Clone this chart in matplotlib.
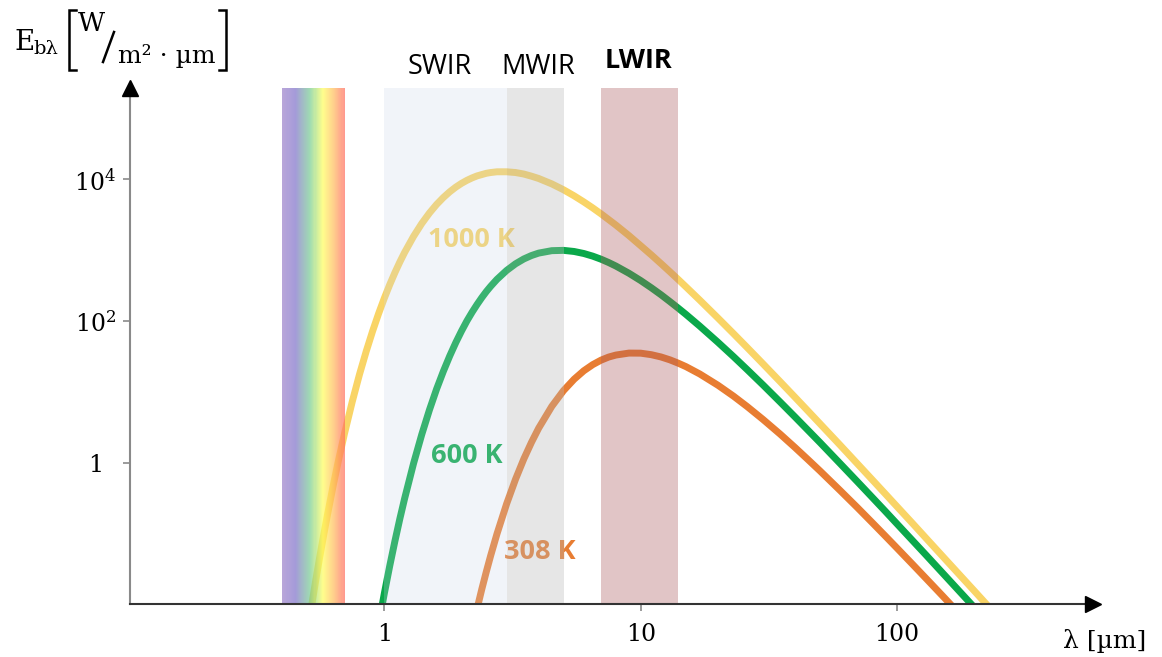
import numpy as np
import matplotlib.pyplot as plt
from matplotlib.colors import LinearSegmentedColormap
from matplotlib.lines import Line2D

# spectral emissive power: wavelength [um], E [W/m2.um]
wl_1000 = [0.5, 0.52, 0.54, 0.56, 0.58, 0.6, 0.63, 0.66, 0.7, 0.75, 0.8, 0.85, 0.9, 0.95, 1.0,
           1.05, 1.1, 1.15, 1.2, 1.3, 1.4, 1.5, 1.6, 1.7, 1.8, 1.9, 2.0, 2.1, 2.2, 2.3, 2.4, 2.5,
           2.6, 2.75, 3.0, 3.25, 3.5, 3.75, 4.0, 4.5, 5.0, 5.5, 6.0, 6.5, 7.0, 7.5, 8, 9, 10, 11,
           12, 13, 14, 15, 17, 20, 23, 26, 30, 35, 40, 45, 50, 60, 70, 80, 90, 100, 115, 130, 150,
           175, 200, 230, 260]
e_1000 = [0.00381, 0.00947, 0.0219, 0.0472, 0.096, 0.185, 0.455, 1.02, 2.64, 7.35, 17.7, 37.6,
          72.3, 128, 211, 328, 485, 686, 933, 1570, 2390, 3360, 4440, 5560, 6690, 7780, 8790,
          9700, 10500, 11200, 11700, 12200, 12500, 12800, 12800, 12500, 11900, 11100, 10300, 8640,
          7140, 5860, 4810, 3960, 3270, 2710, 2270, 1610, 1160, 861, 649, 498, 388, 306, 198, 111,
          66.9, 42.6, 25, 14, 8.44, 5.38, 3.59, 1.78, 0.976, 0.58, 0.366, 0.242, 0.14, 0.0861,
          0.0489, 0.0266, 0.0157, 0.00901, 0.00554]

wl_600 = [0.95, 1.0, 1.05, 1.1, 1.15, 1.2, 1.3, 1.4, 1.5, 1.6, 1.7, 1.8, 1.9, 2.0, 2.1, 2.2, 2.3,
          2.4, 2.5, 2.6, 2.75, 3.0, 3.25, 3.5, 3.75, 4.0, 4.5, 5.0, 5.5, 6.0, 6.5, 7.0, 7.5, 8, 9,
          10, 11, 12, 13, 14, 15, 17, 20, 23, 26, 30, 35, 40, 45, 50, 60, 70, 80, 90, 100, 115,
          130, 150, 175, 200, 230, 260]
e_600 = [0.00527, 0.0144, 0.0354, 0.0792, 0.164, 0.315, 0.982, 2.53, 5.62, 11.1, 19.7, 32.4,
         49.9, 72.6, 101, 134, 172, 215, 262, 311, 389, 520, 645, 755, 844, 913, 988, 998, 962,
         901, 827, 749, 672, 600, 474, 374, 296, 236, 189, 153, 125, 85.1, 50.5, 31.7, 20.8,
         12.6, 7.24, 4.45, 2.88, 1.95, 0.979, 0.545, 0.327, 0.208, 0.138, 0.0802, 0.0498,
         0.0284, 0.0155, 0.00918, 0.00529, 0.00326]

wl_308 = [2.1, 2.2, 2.3, 2.4, 2.5, 2.6, 2.75, 3, 3.25, 3.5, 3.75, 4, 4.5, 5, 5.5, 6, 6.5, 7, 7.5,
          8, 9, 10, 11, 12, 13, 14, 15, 17, 20, 23, 26, 30, 35, 40, 45, 50, 60, 70, 80, 90, 100,
          115, 130, 150, 175, 200, 230]
e_308 = [0.002, 0.00436, 0.00878, 0.0166, 0.0294, 0.0496, 0.0998, 0.266, 0.591, 1.14, 1.96, 3.1,
         6.29, 10.5, 15.2, 20, 24.4, 28.2, 31.2, 33.3, 35.5, 35.4, 33.7, 31.3, 28.5, 25.6, 22.9,
         18, 12.5, 8.78, 6.26, 4.11, 2.55, 1.65, 1.11, 0.775, 0.408, 0.235, 0.144, 0.0931, 0.0628,
         0.0371, 0.0233, 0.0135, 0.00745, 0.00444, 0.00258]

temp_labels = ['1000 K', '600 K', '308 K']
band_names = ['SWIR', 'MWIR', 'LWIR']
band_edges = [(1, 3), (3, 5), (7, 14)]
visible = (0.4, 0.7)
xticks = [1, 10, 100]
xtick_labels = ['1', '10', '100']
yticks = [1, 1e2, 1e4]
ytick_labels = ['1', '$10^2$', '$10^4$']

W, H = 1162, 657
plt.rcParams['mathtext.fontset'] = 'dejavuserif'


def px(x, y):
    # pixel position from the top left -> figure fraction
    return x / W, 1 - y / H


fig = plt.figure(figsize=(W / 100, H / 100), dpi=100)
ax = fig.add_axes([130 / W, 53 / H, (1093 - 130) / W, 516 / H])
ax.set_xscale('log')
ax.set_yscale('log')
ax.set_xlim(0.1019, 580.7)
ax.set_ylim(0.01026, 1.946e5)

curve_colors = ['#F9D466', '#0AA84A', '#E87D32']
for wl, e, c in zip([wl_1000, wl_600, wl_308], [e_1000, e_600, e_308], curve_colors):
    ax.plot(wl, e, color=c, lw=5, solid_capstyle='butt', solid_joinstyle='round', zorder=2)

# temperature labels sit under the bands, like the curves
label_pos = [(2.18, 1400), (2.10, 1.26), (4.05, 0.0556)]
for t, (x, y), c in zip(temp_labels, label_pos, curve_colors):
    ax.text(x, y, t, color=c, fontsize=19.5, fontweight='bold', family='Open Sans',
            ha='center', va='center', zorder=1.5)

# visible spectrum strip
rainbow = LinearSegmentedColormap.from_list('vis', [
    (0.0, '#9B80CA'), (0.2, '#7E70C9'), (0.45, '#76CD91'),
    (0.65, '#FFFF5B'), (0.85, '#FFB55B'), (1.0, '#FF6F5E')])
edges = np.geomspace(visible[0], visible[1], 61)
for i in range(60):
    ax.axvspan(edges[i], edges[i + 1], color=rainbow(i / 59), alpha=0.7, lw=0, zorder=3)

band_colors = [('#C8D5E8', 0.25), ('#B8B8B8', 0.35), ('#AB595C', 0.35)]
for (a, b), (c, al) in zip(band_edges, band_colors):
    ax.axvspan(a, b, color=c, alpha=al, lw=0, zorder=3)

band_label_pos = [(1.65, 1.041), (3.97, 1.041), (9.84, 1.052)]
for name, (x, y) in zip(band_names, band_label_pos):
    ax.text(x, y, name, transform=ax.get_xaxis_transform(), fontsize=19.5,
            family='Open Sans', fontweight='bold' if name == 'LWIR' else 'normal',
            ha='center', va='center', color='black')

# axes with arrow heads
for s in ['top', 'right']:
    ax.spines[s].set_visible(False)
ax.spines['left'].set_color('#8a8a8a')
ax.spines['bottom'].set_color('#333333')
for s in ['left', 'bottom']:
    ax.spines[s].set_linewidth(1.5)
    ax.spines[s].set_zorder(5)
ax.plot(1, 0, '>', color='black', ms=11, transform=ax.transAxes, clip_on=False, zorder=6)
ax.plot(0, 1, '^', color='black', ms=11, transform=ax.transAxes, clip_on=False, zorder=6)

ax.set_xticks(xticks)
ax.set_xticklabels(xtick_labels)
ax.set_yticks(yticks)
ax.set_yticklabels(ytick_labels)
ax.minorticks_off()
ax.tick_params(axis='both', length=5, width=1.2, color='#8a8a8a', labelsize=17)
ax.tick_params(axis='x', pad=9)
ax.tick_params(axis='y', pad=20)
for lab in ax.get_xticklabels() + ax.get_yticklabels():
    lab.set_family('DejaVu Serif')
for lab in ax.get_yticklabels():
    lab.set_ha('center')

# axis titles
serif = 'DejaVu Serif'
fig.text(*px(1063, 648), 'λ [µm]', family=serif, fontsize=18, ha='left', va='baseline')
fig.text(*px(14, 50), 'E', family=serif, fontsize=20, ha='left', va='baseline')
fig.text(*px(33, 54), 'bλ', family=serif, fontsize=14, ha='left', va='baseline')
fig.text(*px(78, 31), 'W', family=serif, fontsize=19, ha='left', va='baseline')
fig.text(*px(118, 63), 'm² · µm', family=serif, fontsize=18, ha='left', va='baseline')
for xs, ys in [([76, 69, 69, 76], [10, 10, 70, 70]),
               ([219, 226, 226, 219], [10, 10, 70, 70]),
               ([103, 114], [62, 32])]:
    fx = [x / W for x in xs]
    fy = [1 - y / H for y in ys]
    fig.add_artist(Line2D(fx, fy, color='black', lw=1.8, solid_joinstyle='miter'))

fig.savefig('out.png', dpi=100)
